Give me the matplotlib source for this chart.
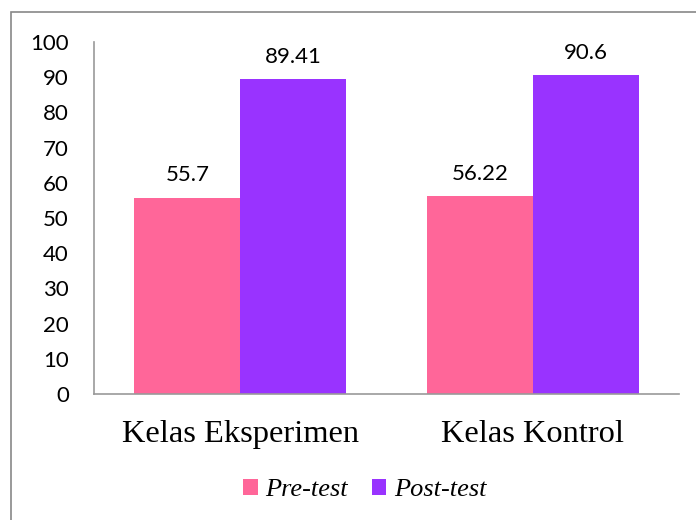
import matplotlib
matplotlib.use("Agg")
import matplotlib.pyplot as plt
from matplotlib.patches import Rectangle
import numpy as np

categories = ["Kelas Eksperimen", "Kelas Kontrol"]
series_names = ["Pre-test", "Post-test"]
pre_test = [55.7, 56.22]
post_test = [89.41, 90.6]
value_labels_pre = ["55.7", "56.22"]
value_labels_post = ["89.41", "90.6"]
y_ticks = [0, 10, 20, 30, 40, 50, 60, 70, 80, 90, 100]

pink = "#FF6699"
purple = "#9933FF"
sans = ["Lato", "DejaVu Sans"]
serif = ["Liberation Serif", "DejaVu Serif"]

W, H = 696, 520
fig = plt.figure(figsize=(W / 100, H / 100), dpi=100)
ax = fig.add_axes([94 / W, 1 - 394 / H, (679 - 94) / W, (394 - 42) / H])

x = np.arange(len(categories))
bw = 0.362
b1 = ax.bar(x - bw / 2, pre_test, bw, color=pink, label=series_names[0])
b2 = ax.bar(x + bw / 2, post_test, bw, color=purple, label=series_names[1])

for bars, labs in ((b1, value_labels_pre), (b2, value_labels_post)):
    for r, t in zip(bars, labs):
        ax.annotate(t, (r.get_x() + r.get_width() / 2, r.get_height()),
                    xytext=(0, 9), textcoords="offset points", ha="center",
                    va="bottom", fontsize=16, family=sans, color="black")

ax.set_xlim(-0.5, 1.5)
ax.set_ylim(0, 100)
ax.set_yticks(y_ticks)
ax.set_yticklabels([str(v) for v in y_ticks], family=sans, fontsize=16)
ax.set_xticks(x)
ax.set_xticklabels(categories, family=serif, fontsize=23.4)
ax.tick_params(axis="y", length=0, pad=18)
ax.tick_params(axis="x", length=0, pad=19)
for s in ("top", "right"):
    ax.spines[s].set_visible(False)
for s in ("left", "bottom"):
    ax.spines[s].set_color("#999999")
    ax.spines[s].set_linewidth(1.2)

leg = fig.legend(handles=[b1, b2], loc="center", bbox_to_anchor=(365 / W, 1 - 490 / H),
                 ncol=2, frameon=False, prop={"family": serif, "style": "italic", "size": 19},
                 handlelength=0.55, handleheight=0.55, handletextpad=0.3, columnspacing=0.9)

fig.patches.append(Rectangle((11 / W, -0.1), 1.2, 1.1 - 12 / H, transform=fig.transFigure,
                             fill=False, edgecolor="#888888", linewidth=1.2))

fig.savefig("out.png", dpi=100)
